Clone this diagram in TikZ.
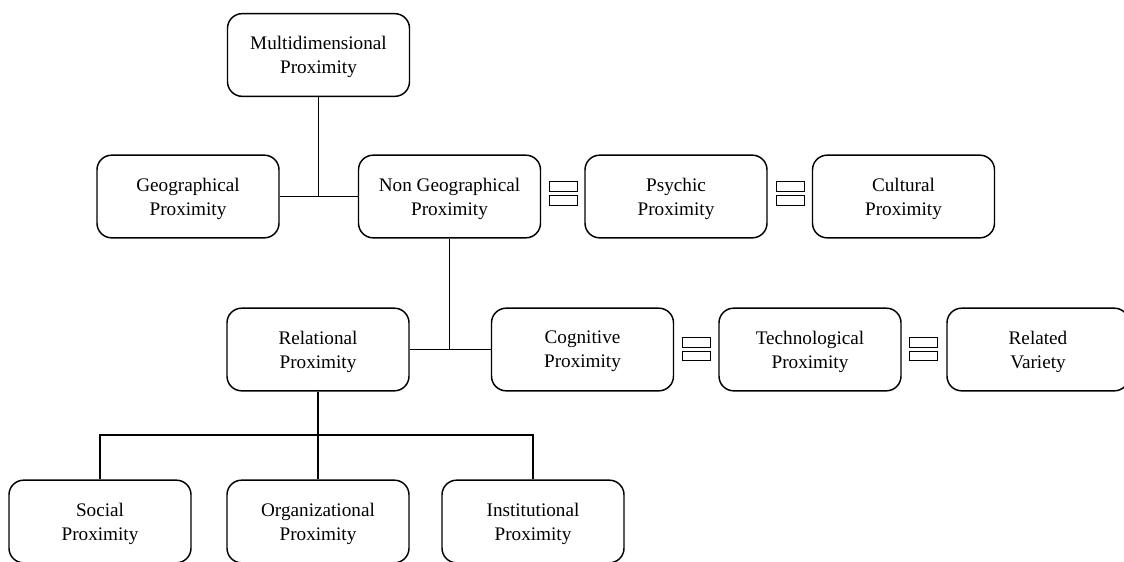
\documentclass[tikz,border=0pt]{standalone}
\usepackage{fontspec}
\setmainfont{Liberation Serif}

\begin{document}
\begin{tikzpicture}[x=0.75pt,y=-0.75pt,
  prox_node/.style={rectangle,draw,line width=1.1pt,rounded corners=11pt,minimum width=136.5pt,minimum height=62pt,align=center,text depth=0pt,font=\fontsize{14.4}{18}\selectfont},
  eq_node/.style={rectangle,draw,line width=0.9pt,minimum width=21.3pt,minimum height=7pt,inner sep=0pt}]

    \clip (0,0) rectangle (1124,561);

    \node[prox_node] (1) at (318.5, 55) {Multidimensional\\Proximity};
    \node[prox_node] (2) at (188, 196.5) {Geographical\\Proximity};
    \node[prox_node] (3) at (449.5, 196.5) {Non Geographical\\Proximity};
    \node[prox_node] (4) at (676, 196.5) {Psychic\\Proximity};
    \node[prox_node] (5) at (903.5, 196.5) {Cultural\\Proximity};
    \node[prox_node] (6) at (318, 349.5) {Relational\\Proximity};
    \node[prox_node] (7) at (582.5, 349.5) {Cognitive\\Proximity};
    \node[prox_node] (8) at (810, 349.5) {Technological\\Proximity};
    \node[prox_node] (9) at (1038, 349.5) {Related\\Variety};
    \node[prox_node] (10) at (100, 521.5) {Social\\Proximity};
    \node[prox_node] (11) at (318, 521.5) {Organizational\\Proximity};
    \node[prox_node] (12) at (533, 521.5) {Institutional\\Proximity};

    \node[eq_node] (13) at (563.5, 186.5) {};
    \node[eq_node] (14) at (563.5, 200.5) {};
    \node[eq_node] (15) at (790.5, 186.5) {};
    \node[eq_node] (16) at (790.5, 200.5) {};
    \node[eq_node] (17) at (696.5, 342.5) {};
    \node[eq_node] (18) at (696.5, 356) {};
    \node[eq_node] (19) at (923.5, 342.5) {};
    \node[eq_node] (20) at (923.5, 356) {};

    \coordinate (21) at (318, 435);

    \draw[line width=1.1pt] (2.east) -- (3.west);
    \draw[line width=1.1pt] (1.south) -- (1.south |- 2.east);
    \draw[line width=1.1pt] (6.east) -- (7.west);
    \draw[line width=1.1pt] (3.south) -- (3.south |- 6.east);
    \draw[line width=1.1pt] (6.south) -- (21) -- (11.north);
    \draw[line width=1.1pt] (10.north) |- (21) -| (12.north);

\end{tikzpicture}
\end{document}
